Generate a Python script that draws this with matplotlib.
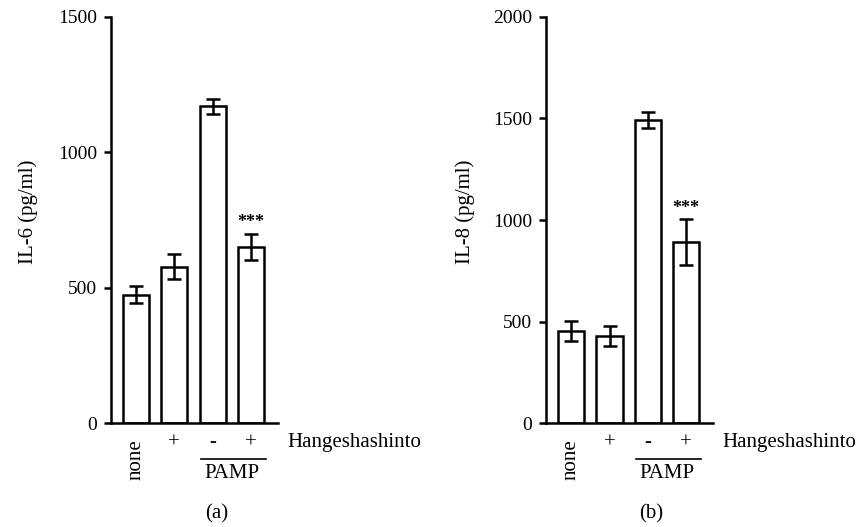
import matplotlib
matplotlib.use("Agg")
import matplotlib.pyplot as plt

plt.rcParams['font.family'] = ['Liberation Serif', 'DejaVu Serif']

groups = ["none", "+", "-", "+"]
il6_mean = [475, 578, 1170, 652]
il6_err = [30, 45, 27, 48]
il8_mean = [455, 428, 1492, 893]
il8_err = [50, 48, 40, 112]

panels = [
    ("IL-6 (pg/ml)", il6_mean, il6_err, 1500, [0, 500, 1000, 1500], "(a)", -0.44),
    ("IL-8 (pg/ml)", il8_mean, il8_err, 2000, [0, 500, 1000, 1500, 2000], "(b)", -0.425),
]

fig = plt.figure(figsize=(8.6, 5.27), dpi=100)
lefts = [0.129, 0.635]
fs = 15

for left, (ylab, mean, err, ymax, ticks, tag, labx) in zip(lefts, panels):
    ax = fig.add_axes([left, 0.197, 0.194, 0.771])
    x = range(len(mean))
    ax.bar(x, mean, width=0.68, color="white", edgecolor="black", linewidth=1.8)
    ax.errorbar(x, mean, yerr=err, fmt="none", ecolor="black", elinewidth=1.8,
                capsize=5, capthick=1.8)
    ax.set_xlim(-0.655, 3.7)
    ax.set_ylim(0, ymax)
    ax.set_yticks(ticks)
    ax.tick_params(axis="y", direction="out", length=5, width=1.8, labelsize=14, pad=5)
    ax.set_xticks([])
    for s in ["top", "right"]:
        ax.spines[s].set_visible(False)
    for s in ["left", "bottom"]:
        ax.spines[s].set_linewidth(1.8)
    ax.set_ylabel(ylab, fontsize=fs)
    ax.yaxis.set_label_coords(labx, 0.52)

    trans = ax.get_xaxis_transform()
    ax.text(0, -0.04, groups[0], rotation=90, ha="center", va="top",
            fontsize=fs, transform=trans)
    for i in range(1, 4):
        ax.text(i, -0.025, groups[i], ha="center", va="top", fontsize=fs,
                transform=trans, fontweight="light")
    ax.text(3.95, -0.025, "Hangeshashinto", ha="left", va="top", fontsize=fs,
            transform=trans, clip_on=False)
    ax.plot([1.7, 3.4], [-0.088, -0.088], color="black", lw=1.2,
            transform=trans, clip_on=False)
    ax.text(2.5, -0.1, "PAMP", ha="center", va="top", fontsize=fs, transform=trans)
    ax.text(3, mean[3] + err[3] + ymax * 0.006, "***", ha="center",
            va="bottom", fontsize=13, fontweight="bold")
    ax.text(2.1, -0.2, tag, ha="center", va="top", fontsize=fs, transform=trans)

fig.savefig("out.png", dpi=100)
